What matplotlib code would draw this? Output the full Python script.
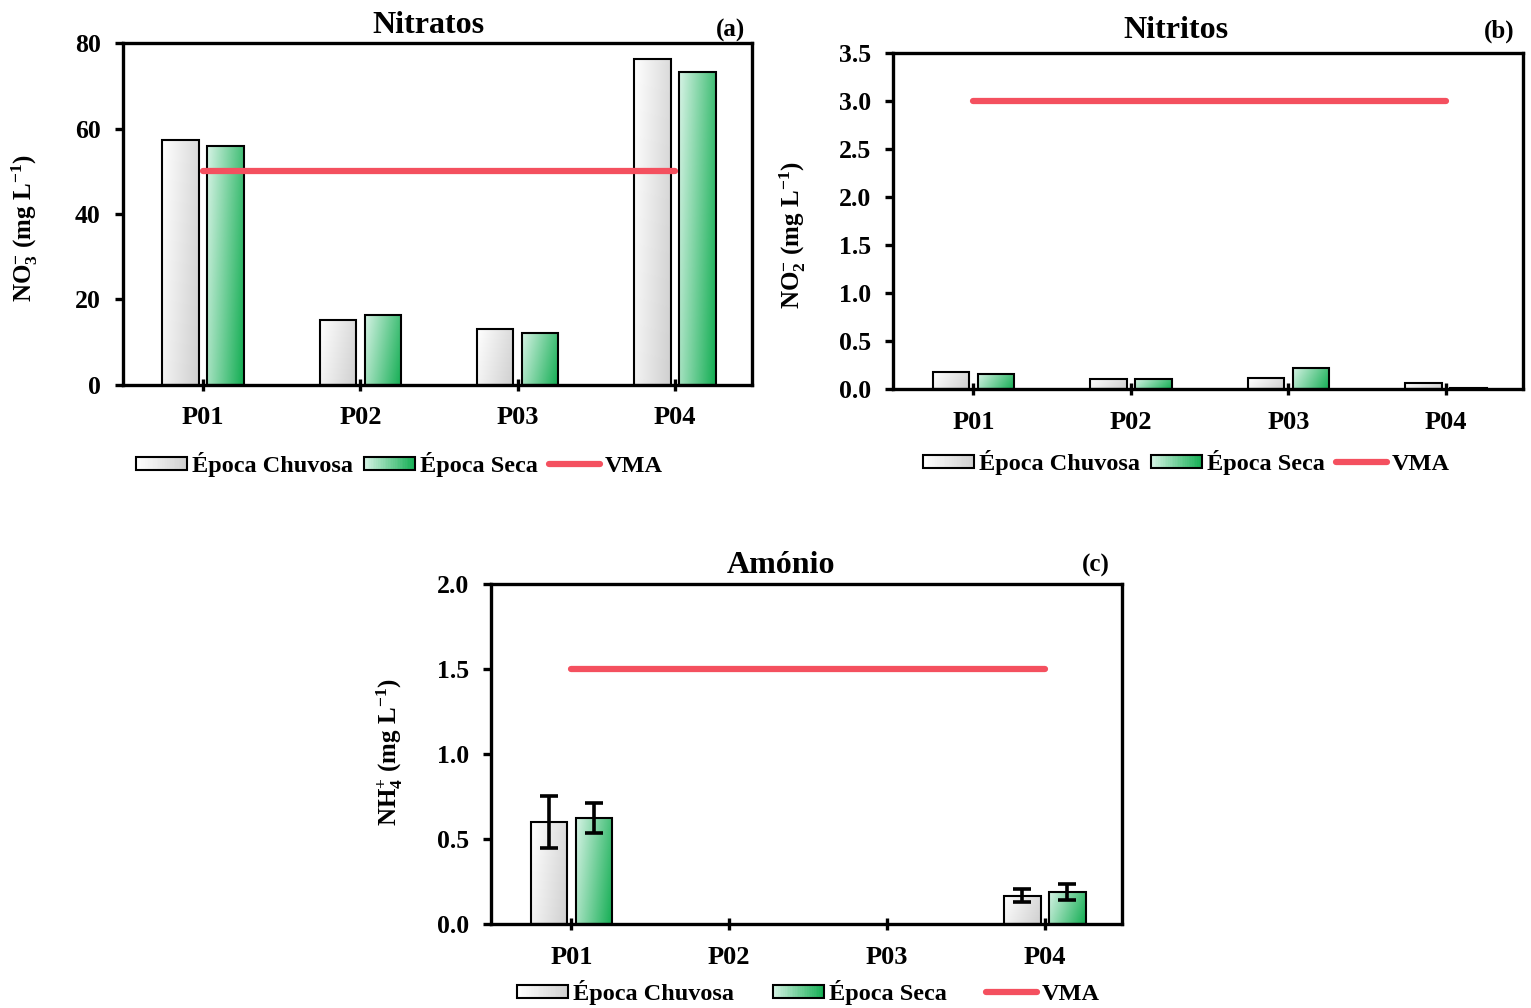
import numpy as np
import matplotlib
matplotlib.use("Agg")
import matplotlib.pyplot as plt
from matplotlib.patches import Rectangle, Patch
from matplotlib.lines import Line2D
from matplotlib.legend_handler import HandlerBase
from matplotlib.colors import to_rgb

# ---- data -----------------------------------------------------------------
sites = ["P01", "P02", "P03", "P04"]

nitrato_chuvosa = [57.3, 15.2, 13.1, 76.3]
nitrato_seca = [55.9, 16.4, 12.2, 73.2]
nitrato_vma = 50

nitrito_chuvosa = [0.18, 0.10, 0.11, 0.06]
nitrito_seca = [0.16, 0.10, 0.22, 0.015]
nitrito_vma = 3.0

amonio_chuvosa = [0.60, np.nan, np.nan, 0.167]
amonio_seca = [0.623, np.nan, np.nan, 0.19]
amonio_chuvosa_err = [0.155, np.nan, np.nan, 0.04]
amonio_seca_err = [0.09, np.nan, np.nan, 0.047]
amonio_vma = 1.5

season_labels = ["Época Chuvosa", "Época Seca", "VMA"]

# ---- style ----------------------------------------------------------------
plt.rcParams["font.family"] = ["Liberation Serif", "DejaVu Serif"]
plt.rcParams["font.weight"] = "bold"
plt.rcParams["mathtext.fontset"] = "custom"
plt.rcParams["mathtext.rm"] = "Liberation Serif:bold"
plt.rcParams["mathtext.it"] = "Liberation Serif:bold"
plt.rcParams["mathtext.bf"] = "Liberation Serif:bold"

GRAY = ("#ffffff", "#cfcfcf")
GREEN = ("#d6f3e5", "#12ad52")
VMA_COLOR = "#F4505F"
SPINE_W = 2.4
BAR_EDGE_W = 1.5

YTICK_FS = 18.5
XTICK_FS = 19
TITLE_FS = 23
LETTER_FS = 18
YLABEL_FS = 18
LEGEND_FS = 17.5


def blend(c0, c1, t):
    a, b = np.array(to_rgb(c0)), np.array(to_rgb(c1))
    return a + (b - a) * t


def gradient_image(c0, c1, n=64):
    u = np.linspace(0, 1, n)[None, :]
    v = np.linspace(0, 1, n)[:, None]
    t = np.clip(0.75 * u + 0.25 * v, 0, 1)  # light top-left, dark bottom-right
    a, b = np.array(to_rgb(c0)), np.array(to_rgb(c1))
    return a[None, None, :] + (b - a)[None, None, :] * t[..., None]


def gradient_bars(ax, x, heights, width, colors):
    bars = ax.bar(x, np.nan_to_num(heights), width, facecolor="none",
                  edgecolor="black", linewidth=BAR_EDGE_W, zorder=3)
    img = gradient_image(*colors)
    for rect, h in zip(bars, heights):
        if not np.isfinite(h) or h <= 0:
            rect.set_visible(False)
            continue
        x0, w = rect.get_x(), rect.get_width()
        im = ax.imshow(img, extent=[x0, x0 + w, 0, h], origin="upper",
                       aspect="auto", zorder=2, interpolation="bilinear")
        im.set_clip_path(rect)
    return bars


class GradientHandler(HandlerBase):
    def __init__(self, colors, n=30):
        super().__init__()
        self.colors = colors
        self.n = n

    def create_artists(self, legend, orig_handle, xdescent, ydescent,
                       width, height, fontsize, trans):
        arts = []
        h = height * 0.75
        y0 = -ydescent + (height - h) / 2
        for i in range(self.n):
            t = (i + 0.5) / self.n
            r = Rectangle((-xdescent + i * width / self.n, y0),
                          width / self.n * 1.05, h,
                          facecolor=blend(*self.colors, t),
                          edgecolor="none", transform=trans)
            arts.append(r)
        arts.append(Rectangle((-xdescent, y0), width, h, fill=False,
                              edgecolor="black", linewidth=BAR_EDGE_W,
                              transform=trans))
        return arts


def style_axes(ax, ylim, yticks, yfmt):
    ax.set_xlim(-0.51, 3.49)
    ax.set_ylim(*ylim)
    ax.set_yticks(yticks)
    ax.set_yticklabels([yfmt.format(v) for v in yticks], fontsize=YTICK_FS,
                       fontweight="bold")
    ax.set_xticks(range(len(sites)))
    ax.set_xticklabels(sites, fontsize=XTICK_FS, fontweight="bold")
    for s in ax.spines.values():
        s.set_linewidth(SPINE_W)
    ax.tick_params(axis="y", direction="out", length=6, width=SPINE_W, pad=10)
    ax.tick_params(axis="x", direction="inout", length=9, width=SPINE_W, pad=11)


def draw_panel(ax, chuv, seca, vma, chuv_err=None, seca_err=None):
    x = np.arange(len(sites))
    off, w = 0.143, 0.232
    gradient_bars(ax, x - off, chuv, w, GRAY)
    gradient_bars(ax, x + off, seca, w, GREEN)
    if chuv_err is not None:
        ekw = dict(fmt="none", ecolor="black", elinewidth=2.6, capsize=6.5,
                   capthick=2.6, zorder=5)
        ax.errorbar(x - off, chuv, yerr=chuv_err, **ekw)
        ax.errorbar(x + off, seca, yerr=seca_err, **ekw)
    ax.plot([x[0], x[-1]], [vma, vma], color=VMA_COLOR, linewidth=4.5,
            solid_capstyle="round", zorder=4)


def add_legend(fig, center, colspacing):
    h_chuv = Patch(label=season_labels[0])
    h_seca = Patch(label=season_labels[1])
    h_vma = Line2D([], [], color=VMA_COLOR, linewidth=4.5,
                   solid_capstyle="round", label=season_labels[2])
    fig.legend(handles=[h_chuv, h_seca, h_vma], loc="center",
               bbox_to_anchor=center, ncol=3, frameon=False,
               prop=dict(family="Liberation Serif", weight="bold",
                         size=LEGEND_FS),
               handlelength=2.1, handleheight=0.7, handletextpad=0.2,
               columnspacing=colspacing, borderaxespad=0,
               handler_map={h_chuv: GradientHandler(GRAY),
                            h_seca: GradientHandler(GREEN)})


fig = plt.figure(figsize=(15.31, 10.08), dpi=100)

ax_a = fig.add_axes([0.0803, 0.6181, 0.4109, 0.3392])
ax_b = fig.add_axes([0.5833, 0.6141, 0.4115, 0.3333])
ax_c = fig.add_axes([0.3207, 0.0833, 0.4122, 0.3373])

draw_panel(ax_a, nitrato_chuvosa, nitrato_seca, nitrato_vma)
style_axes(ax_a, (0, 80), [0, 20, 40, 60, 80], "{:.0f}")

draw_panel(ax_b, nitrito_chuvosa, nitrito_seca, nitrito_vma)
style_axes(ax_b, (0, 3.5), np.arange(0, 3.51, 0.5), "{:.1f}")

draw_panel(ax_c, amonio_chuvosa, amonio_seca, amonio_vma,
           amonio_chuvosa_err, amonio_seca_err)
style_axes(ax_c, (0, 2.0), np.arange(0, 2.01, 0.5), "{:.1f}")

# titles and panel letters
fig.text(0.2796, 0.967, "Nitratos", ha="center", va="baseline",
         fontsize=TITLE_FS, fontweight="bold")
fig.text(0.4866, 0.964, "(a)", ha="right", va="baseline", fontsize=LETTER_FS,
         fontweight="bold")
fig.text(0.768, 0.962, "Nitritos", ha="center", va="baseline",
         fontsize=TITLE_FS, fontweight="bold")
fig.text(0.9895, 0.963, "(b)", ha="right", va="baseline", fontsize=LETTER_FS,
         fontweight="bold")
fig.text(0.510, 0.4315, "Amónio", ha="center", va="baseline",
         fontsize=TITLE_FS, fontweight="bold")
fig.text(0.725, 0.4325, "(c)", ha="right", va="baseline", fontsize=LETTER_FS,
         fontweight="bold")

# y-axis labels
fig.text(0.016, 0.774, r"NO$_{3}^{-}$ (mg L$^{-1}$)", rotation=90,
         ha="center", va="center", fontsize=YLABEL_FS, fontweight="bold")
fig.text(0.518, 0.767, r"NO$_{2}^{-}$ (mg L$^{-1}$)", rotation=90,
         ha="center", va="center", fontsize=YLABEL_FS, fontweight="bold")
fig.text(0.2547, 0.254, r"NH$_{4}^{+}$ (mg L$^{-1}$)", rotation=90,
         ha="center", va="center", fontsize=YLABEL_FS, fontweight="bold")

add_legend(fig, (0.261, 0.539), 0.45)
add_legend(fig, (0.775, 0.541), 0.45)
add_legend(fig, (0.528, 0.015), 1.6)

fig.savefig("out.png", dpi=100)
